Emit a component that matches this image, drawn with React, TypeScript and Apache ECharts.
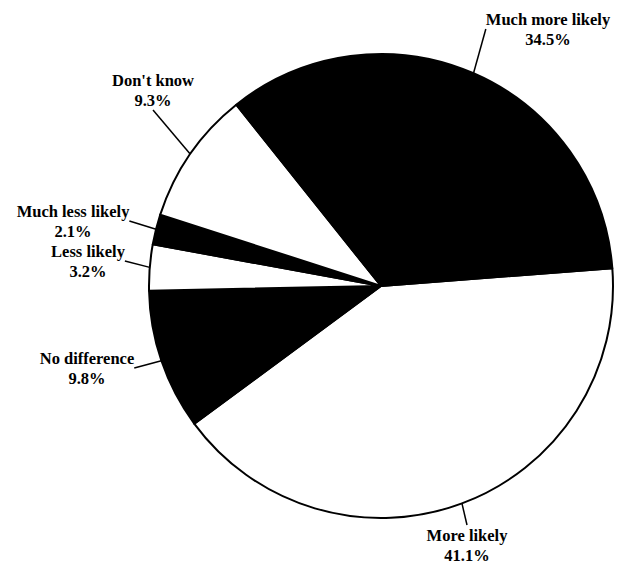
import React, { useEffect, useRef } from "react";
import * as echarts from "echarts";

const categories = ["More likely", "No difference", "Less likely", "Much less likely", "Don't know", "Much more likely"];
const values = [41.1, 9.8, 3.2, 2.1, 9.3, 34.5];
const fills = ["#ffffff", "#000000", "#ffffff", "#000000", "#ffffff", "#000000"];
// label anchor positions (centre of text block)
const labelPos: [number, number][] = [
  [467, 545],
  [87, 368],
  [88, 261],
  [73, 221],
  [153, 90],
  [548, 29],
];

export default function App() {
  const ref = useRef<HTMLDivElement>(null);
  useEffect(() => {
    const chart = echarts.init(ref.current!, undefined, { renderer: "svg" });
    chart.setOption({
      animation: false,
      backgroundColor: "#ffffff",
      series: [
        {
          type: "pie",
          center: [381, 286],
          radius: [0, 232],
          startAngle: 4.4,
          clockwise: true,
          percentPrecision: 1,
          avoidLabelOverlap: false,
          data: categories.map((c, i) => ({
            name: c,
            value: values[i],
            itemStyle: { color: fills[i] },
          })),
          itemStyle: { borderColor: "#000", borderWidth: 2 },
          label: {
            show: true,
            position: "outside",
            formatter: "{b}\n{d}%",
            color: "#000",
            fontFamily: "Liberation Serif",
            fontWeight: "bold",
            fontSize: 16.5,
            lineHeight: 20,
            align: "center",
          },
          labelLine: {
            show: true,
            length: 15,
            length2: 0,
            lineStyle: { color: "#000", width: 1.5 },
          },
          labelLayout: (params: any) => {
            const p = labelPos[params.dataIndex];
            return { x: p[0], y: p[1], align: "center", verticalAlign: "middle" };
          },
          emphasis: { disabled: true },
        },
      ],
    });
    return () => chart.dispose();
  }, []);
  return <div ref={ref} style={{ position: "fixed", left: 0, top: 0, width: 619, height: 567 }} />;
}
